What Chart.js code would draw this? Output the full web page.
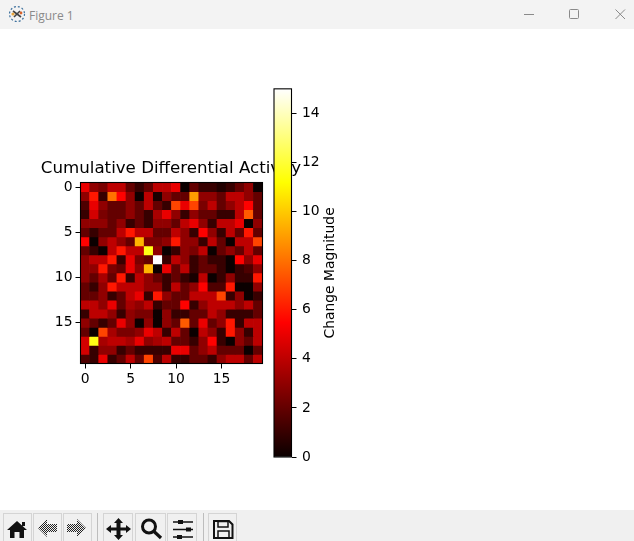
<!DOCTYPE html>
<html><head><meta charset="utf-8">
<script src="https://cdn.jsdelivr.net/npm/chart.js@4/dist/chart.umd.min.js"></script>
<style>
html,body{margin:0;padding:0;background:#fff;width:634px;height:541px;overflow:hidden;position:relative}
#bar{position:absolute;left:0;top:0;width:634px;height:29px;background:#f3f3f3}
#ttl{position:absolute;left:29px;top:7px;font:12px "Open Sans",sans-serif;color:#8a8a8a}
#tool{position:absolute;left:0;top:510px;width:634px;height:31px;background:#f0f0f0}
.b{position:absolute;top:3px;height:28px;border:1px solid #d4d4d4;border-bottom:none;box-sizing:border-box;background:#f0f0f0}
.s{position:absolute;top:3px;height:28px;width:1px;background:#bdbdbd}
canvas{position:absolute}
#wrapA{position:absolute;left:30px;top:150px;width:282px;height:240px}
#wrapB{position:absolute;left:260px;top:75px;width:90px;height:396px}
svg{position:absolute}
</style></head><body>
<div id="bar">
<svg style="left:8px;top:5px" width="18" height="18" viewBox="0 0 18 18"><circle cx="9" cy="9" r="7.5" fill="none" stroke="#3b6f9c" stroke-width="1.2" stroke-dasharray="2 2"/><path d="M5 6L13 12M6 12L12 6" stroke="#444" stroke-width="1.6"/><circle cx="5" cy="9" r="1.6" fill="#e8a33a"/><circle cx="13" cy="8" r="1.4" fill="#d9622b"/></svg>
<div id="ttl">Figure 1</div>
<svg style="left:520px;top:5px" width="110" height="20"><path d="M4 9.5H14" stroke="#8a8a8a" stroke-width="1"/><rect x="49.5" y="4.5" width="9" height="9" rx="1" fill="none" stroke="#8a8a8a"/><path d="M95.5 4.5L105 14M105 4.5L95.5 14" stroke="#8a8a8a"/></svg>
</div>
<div id="wrapA"><canvas id="heat" width="282" height="240"></canvas></div>
<div id="wrapB"><canvas id="cbar" width="90" height="396"></canvas></div>
<div id="tool">
<div class="b" style="left:3px;width:29px"></div><div class="b" style="left:33px;width:29px"></div><div class="b" style="left:63px;width:29px"></div><div class="s" style="left:97px"></div>
<div class="b" style="left:103px;width:30px"></div><div class="b" style="left:135px;width:31px"></div><div class="b" style="left:167px;width:30px"></div><div class="s" style="left:203px"></div><div class="b" style="left:208px;width:29px"></div>
<svg style="left:0;top:0" width="240" height="31" viewBox="0 0 240 31">
<defs><pattern id="d" width="2" height="2" patternUnits="userSpaceOnUse"><rect width="1" height="1" fill="#222"/><rect x="1" y="1" width="1" height="1" fill="#222"/></pattern></defs>
<path d="M7 20L17 11L27 20H24V28H19.500V22H14.500V28H10V20Z" fill="#111"/><rect x="22" y="12" width="3" height="4" fill="#111"/>
<path d="M38 18L47 9V14H57V22H47V27Z" fill="url(#d)"/>
<path d="M86 18L77 9V14H67V22H77V27Z" fill="url(#d)"/>
<path d="M118.500 8L123 13H120.500V17.500H126V15L131 19L126 23V20.500H120.500V25H123L118.500 30L114 25H116.500V20.500H111V23L106 19L111 15V17.500H116.500V13H114Z" fill="#111"/>
<circle cx="149" cy="16.500" r="6.500" fill="none" stroke="#111" stroke-width="3"/><path d="M153.500 21L161 28" stroke="#111" stroke-width="3.200"/>
<path d="M173 12H193M173 19.500H193M173 27H193" stroke="#111" stroke-width="1.400"/><rect x="178" y="10" width="5" height="4" fill="#111"/><rect x="186" y="17.500" width="5" height="4" fill="#111"/><rect x="177" y="25" width="5" height="4" fill="#111"/>
<path d="M214 11H229L232.500 14.500V28H214Z" fill="none" stroke="#111" stroke-width="2"/><rect x="218" y="11.500" width="10" height="5.500" fill="none" stroke="#111" stroke-width="1.500"/><rect x="218" y="21" width="11" height="7" fill="none" stroke="#111" stroke-width="1.500"/>
</svg>
</div>
<script>
const row00=[5,3,2.5,4,4,2,1,2,4,4,5,0,2,1,1,0.5,1,2,3,0];
const row01=[3,6,1,8,5.5,3,0,4,0.3,3,2,2,9,3,3,2,4,4,3,2];
const row02=[1.5,5,3,2,2,3,2,4,2,1,7,5,7,2.5,4,2,3,4,5.5,2];
const row03=[1,4.5,2.5,2,2,3,2,1,3.5,5,3,1,3,2,2,1,1,4,7.5,2];
const row04=[3,3,3,2,3,1,2,1,3,3,2,4,5,3,1,4,4,5,0,3];
const row05=[2,1,2,2,4,6,4,4,2,2,4,3,1,5.5,3,1,4,2,6,2];
const row06=[5.5,0,3,4,3,2,9.5,2.5,2.5,3,6,3,3,1,4,2,0,4,4,7];
const row07=[2,1,0,4,6,4,4,11.5,3,0,1,3,2.5,4,0,2,3,2,4,2];
const row08=[3,4,4,6,1,5,2.5,2,15,1,4,3,1,2,1,1,0,5.5,3,5];
const row09=[3,3,6,2.5,2,5,3,9.5,0,5,2,4,1,2,2,1,0,1,1.5,3];
const row10=[3,2,3.5,2,6,1,4,3,2,1,2,1,0.3,4,0,1,3,1,1,6];
const row11=[2,1,3,6,4,4,4,3,3,1,4,2,3,5.5,1.5,1.5,6,0,0,3];
const row12=[2,2,3,1,2,4,5,1,6,3,2,2,4,4,4,7,1,3,0,1];
const row13=[4,4,3,5,2,3.5,3,4,1,2,2,5.5,1,3,4,4,4,3,4,2];
const row14=[1,4,4,3,1,3,2.5,2.5,0,3,1,1,2,2,4,3,1,1,1,2];
const row15=[3,2,1,2,5,3,0,3,0,3,2,7.5,2,5,2,3,6,1,4,4];
const row16=[2,0,7,3.5,2.5,2.5,3,5,4,1,4,2,0,4,3,1,6,3,1,4];
const row17=[4.5,11.5,3.5,4,4,3.5,5,3,3.5,4,2,2,1,3,5.5,1,0,3,2,4];
const row18=[4.5,1,3,3,1,2,1,1,1,1,5,5,2,3,4,2,2,2,0,2];
const row19=[1.5,1,5,1,2,4,2,7,1.5,4,1,1,2,2,1,3,4,4,2,4];
const rows=[row00,row01,row02,row03,row04,row05,row06,row07,row08,row09,row10,row11,row12,row13,row14,row15,row16,row17,row18,row19];
const heatTicks=[0,5,10,15];
const colorbarTicks=[0,2,4,6,8,10,12,14];
const titleText="Cumulative Differential Activity";
const colorbarLabel="Change Magnitude";
const vmax=15;

function hot(v){
  const t=v/vmax;
  const r=Math.min(1,0.0416+t/0.365079*(1-0.0416));
  const g=Math.max(0,Math.min(1,(t-0.365079)/(0.746032-0.365079)));
  const b=Math.max(0,Math.min(1,(t-0.746032)/(1-0.746032)));
  return `rgb(${Math.round(r*255)},${Math.round(g*255)},${Math.round(b*255)})`;
}
const frame={id:'frame',afterDatasetsDraw(c){
  const a=c.chartArea,x=c.ctx;x.save();x.strokeStyle='#000';x.lineWidth=1.1;
  x.strokeRect(a.left,a.top,a.right-a.left,a.bottom-a.top);x.restore();}};
const sideLabel={id:'sideLabel',afterDraw(c){
  const a=c.chartArea,x=c.ctx;x.save();
  x.translate(70,(a.top+a.bottom)/2);x.rotate(-Math.PI/2);
  x.font='13.9px "DejaVu Sans"';x.fillStyle='#000';x.textAlign='center';x.textBaseline='middle';
  x.fillText(colorbarLabel,0,0);x.restore();}};
const font={family:'"DejaVu Sans"',size:13.9};

new Chart(document.getElementById('heat'),{
  type:'bar',
  data:{datasets:rows.map((vals,r)=>({
    data:vals.map((v,c)=>({x:c,y:[r-0.5,r+0.5]})),
    backgroundColor:vals.map(hot),
    borderWidth:0,barPercentage:1,categoryPercentage:1,grouped:false
  }))},
  options:{
    responsive:false,animation:false,events:[],
    layout:{autoPadding:false,padding:0},
    plugins:{legend:{display:false},tooltip:{enabled:false},
      title:{display:true,text:titleText,color:'#000',font:{family:'"DejaVu Sans"',size:16.67,weight:'normal'},padding:{top:9,bottom:3.5}}},
    scales:{
      x:{type:'linear',offset:false,min:-0.5,max:19.5,
        afterBuildTicks(s){s.ticks=heatTicks.map(v=>({value:v}));},
        afterFit(s){s.height=26.5;},
        ticks:{color:'#000',font,padding:3,maxRotation:0,callback:v=>String(v)},
        grid:{drawOnChartArea:false,drawTicks:true,tickLength:5,tickColor:'#000',offset:false},
        border:{display:false}},
      y:{type:'linear',reverse:true,min:-0.5,max:19.5,
        afterBuildTicks(s){s.ticks=heatTicks.map(v=>({value:v}));},
        afterFit(s){s.width=50.5;},
        ticks:{color:'#000',font,padding:3,callback:v=>String(v)},
        grid:{drawOnChartArea:false,drawTicks:true,tickLength:5,tickColor:'#000'},
        border:{display:false}},
      spacer:{type:'linear',position:'right',min:0,max:1,
        afterFit(s){s.width=49.5;},
        ticks:{display:false},grid:{display:false},border:{display:false}}
    }
  },
  plugins:[frame]
});

new Chart(document.getElementById('cbar'),{
  type:'bar',
  data:{labels:[''],datasets:[{
    data:[[0,vmax]],
    backgroundColor(ctx){
      const a=ctx.chart.chartArea;if(!a)return '#000';
      const g=ctx.chart.ctx.createLinearGradient(0,a.bottom,0,a.top);
      g.addColorStop(0,'rgb(10,0,0)');g.addColorStop(0.365079,'rgb(255,0,0)');
      g.addColorStop(0.746032,'rgb(255,255,0)');g.addColorStop(1,'rgb(255,255,255)');
      return g;
    },
    borderWidth:0,barPercentage:1,categoryPercentage:1
  }]},
  options:{
    responsive:false,animation:false,events:[],
    layout:{autoPadding:false,padding:{left:14,right:0,top:3,bottom:14}},
    plugins:{legend:{display:false},tooltip:{enabled:false}},
    scales:{
      x:{display:false},
      y:{position:'right',min:0,max:vmax,
        afterBuildTicks(s){s.ticks=colorbarTicks.map(v=>({value:v}));},
        afterFit(s){s.width=58.5;},
        ticks:{color:'#000',font,padding:5.5,callback:v=>String(v)},
        grid:{drawOnChartArea:false,drawTicks:true,tickLength:5,tickColor:'#000'},
        border:{display:false}}
    }
  },
  plugins:[frame,sideLabel]
});
</script>
</body></html>
